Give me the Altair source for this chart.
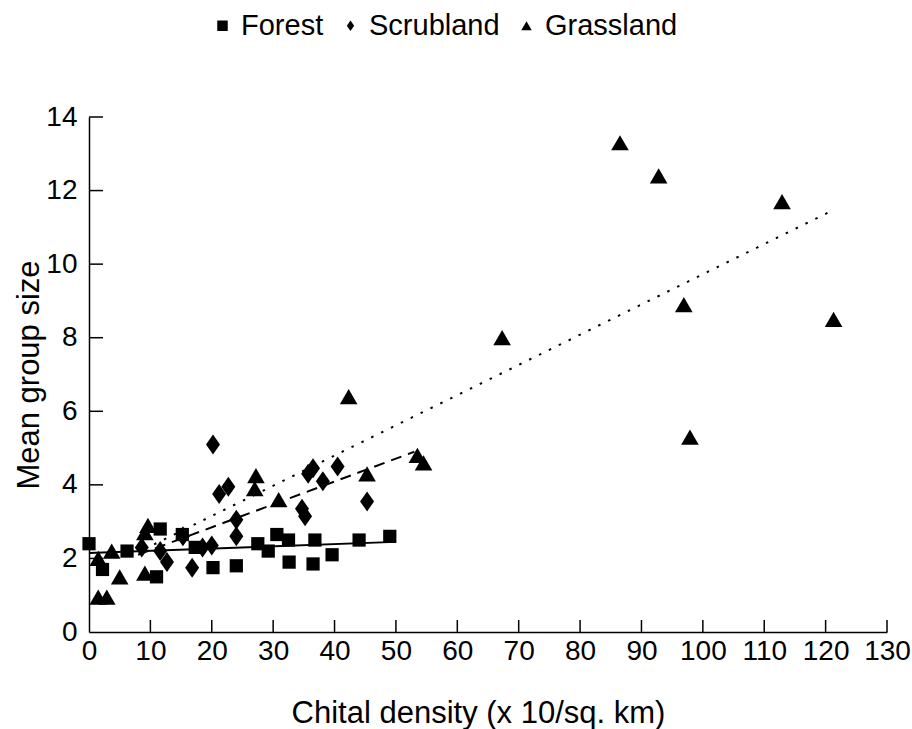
import altair as alt
import pandas as pd

# ---- data ----
habitats = ["Forest", "Scrubland", "Grassland"]

forest_x = [0, 2.2, 6.2, 11.6, 15.2, 11.0, 17.3, 20.2, 24.0, 27.5, 29.2, 30.6, 32.5, 32.6, 36.5, 36.8, 39.6, 44.0, 49.0]
forest_y = [2.4, 1.7, 2.2, 2.8, 2.65, 1.5, 2.3, 1.75, 1.8, 2.4, 2.2, 2.65, 2.5, 1.9, 1.85, 2.5, 2.1, 2.5, 2.6]

scrub_x = [8.6, 11.6, 12.7, 15.3, 16.8, 18.5, 20.0, 20.2, 21.2, 22.7, 24.0, 24.0, 34.7, 35.2, 35.7, 36.5, 38.1, 40.5, 45.3]
scrub_y = [2.3, 2.2, 1.9, 2.6, 1.75, 2.3, 2.35, 5.1, 3.75, 3.95, 3.05, 2.6, 3.35, 3.15, 4.3, 4.45, 4.1, 4.5, 3.55]

grass_x = [1.5, 2.9, 1.5, 3.7, 5.0, 9.1, 9.1, 9.6, 27.2, 27.0, 30.9, 42.3, 45.3, 53.5, 54.5, 67.3, 86.5, 92.8, 96.9, 97.9, 112.9, 121.3]
grass_y = [0.95, 0.95, 2.0, 2.2, 1.5, 1.6, 2.7, 2.9, 4.25, 3.9, 3.6, 6.4, 4.3, 4.8, 4.6, 8.0, 13.3, 12.4, 8.9, 5.3, 11.7, 8.5]

# regression line end points
forest_fit_x = [0, 50]
forest_fit_y = [2.15, 2.45]
scrub_fit_x = [8, 53]
scrub_fit_y = [2.1, 4.9]
grass_fit_x = [9, 121]
grass_fit_y = [2.25, 11.45]

x_ticks = [0, 10, 20, 30, 40, 50, 60, 70, 80, 90, 100, 110, 120, 130]
y_ticks = [0, 2, 4, 6, 8, 10, 12, 14]

FONT = "Liberation Sans, Arial, sans-serif"
W, H = 798, 515
DIAMOND = "M0,-1L0.7,0L0,1L-0.7,0Z"

xs = alt.Scale(domain=[0, 130], nice=False, zero=False)
ys = alt.Scale(domain=[0, 14], nice=False, zero=False)
shape_scale = alt.Scale(domain=habitats, range=["square", DIAMOND, "triangle-up"])

x_axis = alt.Axis(values=x_ticks, title="Chital density (x 10/sq. km)",
                  labelFontSize=28, labelPadding=5, titleFontSize=31,
                  titlePadding=33, titleX=389, ticks=False, grid=False, labelOverlap=False,
                  labelFlush=False,
                  domainColor="black", domainWidth=1.5, labelColor="black",
                  titleColor="black", titleFontWeight="normal")
y_axis = alt.Axis(values=y_ticks, title="Mean group size",
                  labelFontSize=28, labelPadding=12, titleFontSize=31,
                  titlePadding=0, ticks=False, grid=False, labelOverlap=False,
                  labelFlush=False,
                  domainColor="black", domainWidth=1.5, labelColor="black",
                  titleColor="black", titleFontWeight="normal")
legend = alt.Legend(title=None, orient="none", legendX=119, legendY=-106,
                    direction="horizontal", labelFontSize=29, labelColor="black",
                    symbolSize=110, symbolFillColor="black", symbolStrokeColor="black",
                    symbolStrokeWidth=0, columnPadding=12, labelOffset=4)


def point_layer(xv, yv, name, size):
    df = pd.DataFrame({"x": xv, "y": yv, "habitat": name})
    return alt.Chart(df).mark_point(filled=True, opacity=1, color="black", size=size).encode(
        x=alt.X("x:Q", scale=xs, axis=x_axis),
        y=alt.Y("y:Q", scale=ys, axis=y_axis),
        shape=alt.Shape("habitat:N", scale=shape_scale, legend=legend),
    )


def fit_line(xv, yv, dash):
    df = pd.DataFrame({"x": xv, "y": yv})
    if dash:
        mk = alt.Chart(df).mark_line(color="black", strokeWidth=2, strokeDash=dash)
    else:
        mk = alt.Chart(df).mark_line(color="black", strokeWidth=2)
    return mk.encode(x=alt.X("x:Q", scale=xs, axis=x_axis), y=alt.Y("y:Q", scale=ys, axis=y_axis))


l_forest = fit_line(forest_fit_x, forest_fit_y, None)
l_scrub = fit_line(scrub_fit_x, scrub_fit_y, [11, 7])
l_grass = fit_line(grass_fit_x, grass_fit_y, [2.5, 8.5])

p_forest = point_layer(forest_x, forest_y, "Forest", 175)
p_scrub = point_layer(scrub_x, scrub_y, "Scrubland", 400)
p_grass = point_layer(grass_x, grass_y, "Grassland", 310)

xt = alt.Chart(pd.DataFrame({"v": x_ticks[1:]})).mark_rule(color="black", strokeWidth=1.5).encode(
    x=alt.X("v:Q", scale=xs, axis=x_axis), y=alt.value(H), y2=alt.value(H - 12))
yt = alt.Chart(pd.DataFrame({"v": y_ticks[1:]})).mark_rule(color="black", strokeWidth=1.5).encode(
    y=alt.Y("v:Q", scale=ys, axis=y_axis), x=alt.value(0), x2=alt.value(14))

chart = alt.layer(l_forest, l_scrub, l_grass, xt, yt, p_forest, p_scrub, p_grass).properties(
    width=W, height=H,
    autosize=alt.AutoSizeParams(type="none"),
    padding={"left": 89, "top": 117, "right": 25, "bottom": 97},
    background="white",
).configure(font=FONT).configure_view(stroke="transparent", strokeWidth=0)

chart.save("out.html", embed_options={"renderer": "svg", "actions": False})
